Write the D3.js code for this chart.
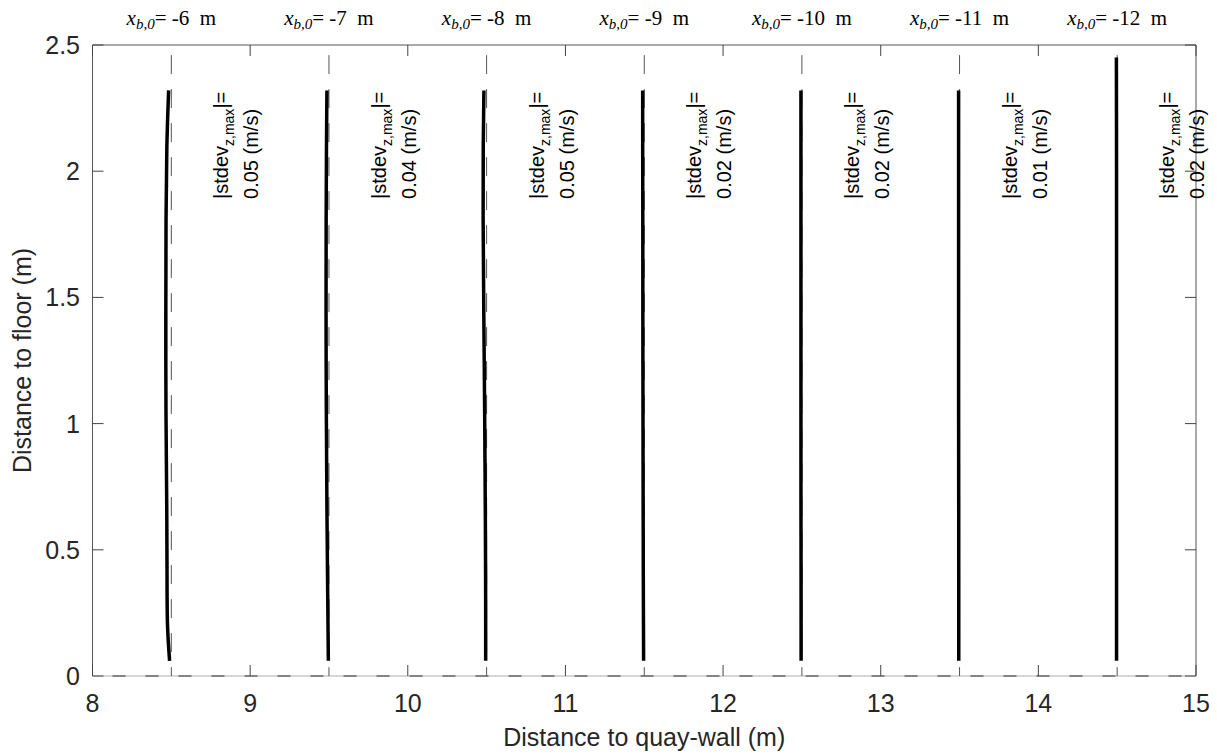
<!DOCTYPE html>
<html><head><meta charset="utf-8">
<script src="https://cdn.jsdelivr.net/npm/d3@7"></script>
<style>body{margin:0;background:#fff}svg text{white-space:pre}</style>
</head><body><svg id="c" width="1217" height="756"></svg>
<script>
// ---- data ----
const xTicks = [8, 9, 10, 11, 12, 13, 14, 15];
const xTickLabels = ["8", "9", "10", "11", "12", "13", "14", "15"];
const yTicks = [0, 0.5, 1, 1.5, 2, 2.5];
const yTickLabels = ["0", "0.5", "1", "1.5", "2", "2.5"];
const profileCenters = [8.5, 9.5, 10.5, 11.5, 12.5, 13.5, 14.5];
const xb0Values = ["-6", "-7", "-8", "-9", "-10", "-11", "-12"];
const stdevValues = ["0.05", "0.04", "0.05", "0.02", "0.02", "0.01", "0.02"];
const heights = [0.06, 0.2, 0.38, 0.65, 1.04, 1.44, 1.83, 2.10, 2.32];
const heights7 = [0.06, 0.2, 0.38, 0.65, 1.04, 1.44, 1.83, 2.10, 2.45];
const offsets1 = [-0.011, -0.027, -0.027, -0.028, -0.035, -0.035, -0.034, -0.030, -0.017];
const offsets2 = [-0.004, -0.006, -0.009, -0.013, -0.017, -0.019, -0.018, -0.016, -0.013];
const offsets3 = [-0.006, -0.006, -0.006, -0.008, -0.012, -0.018, -0.023, -0.022, -0.017];
const offsets4 = [-0.004, -0.005, -0.006, -0.007, -0.008, -0.009, -0.009, -0.010, -0.010];
const offsets5 = [-0.005, -0.005, -0.005, -0.006, -0.006, -0.006, -0.006, -0.006, -0.006];
const offsets6 = [-0.005, -0.005, -0.005, -0.005, -0.006, -0.006, -0.006, -0.006, -0.006];
const offsets7 = [-0.004, -0.004, -0.004, -0.004, -0.004, -0.004, -0.004, -0.004, -0.005];
const profileOffsets = [offsets1, offsets2, offsets3, offsets4, offsets5, offsets6, offsets7];
const profileHeights = [heights, heights, heights, heights, heights, heights, heights7];

// ---- layout ----
const L = 92.5, R = 1196, T = 45, B = 676;
const svg = d3.select("#c");
const x = d3.scaleLinear().domain([8, 15]).range([L, R]);
const y = d3.scaleLinear().domain([0, 2.5]).range([B, T]);
const FONT = "'Liberation Sans', Arial, Helvetica, sans-serif";

// reference dashed lines
const g = svg.append("g");
g.append("line").attr("x1", L).attr("x2", R).attr("y1", y(0)).attr("y2", y(0))
  .attr("stroke", "#b0b0b0").attr("stroke-width", 1.2);
g.append("line").attr("x1", L).attr("x2", R).attr("y1", y(0)).attr("y2", y(0))
  .attr("stroke", "#333").attr("stroke-width", 1.2).attr("stroke-dasharray", "13,20").attr("stroke-dashoffset", -20);
profileCenters.forEach(c => {
  g.append("line").attr("x1", x(c)).attr("x2", x(c)).attr("y1", y(2.46)).attr("y2", y(0))
    .attr("stroke", "#555").attr("stroke-width", 1).attr("stroke-dasharray", "19,15");
});

// profiles
const line = d3.line().x(d => x(d[0])).y(d => y(d[1])).curve(d3.curveBasis);
profileCenters.forEach((c, i) => {
  const pts = profileHeights[i].map((h, j) => [c + profileOffsets[i][j], h]);
  g.append("path").attr("d", line(pts)).attr("fill", "none")
    .attr("stroke", "#000").attr("stroke-width", 3.5);
});

// axes box
svg.append("line").attr("x1", L).attr("x2", R).attr("y1", T).attr("y2", T).attr("stroke", "#555").attr("stroke-width", 1);
svg.append("line").attr("x1", L).attr("x2", L).attr("y1", T).attr("y2", B).attr("stroke", "#555").attr("stroke-width", 1);
svg.append("line").attr("x1", R).attr("x2", R).attr("y1", T).attr("y2", B).attr("stroke", "#555").attr("stroke-width", 1);

// ticks
const tk = 11;
xTicks.forEach((t, i) => {
  svg.append("line").attr("x1", x(t)).attr("x2", x(t)).attr("y1", B).attr("y2", B - tk).attr("stroke", "#444");
  svg.append("line").attr("x1", x(t)).attr("x2", x(t)).attr("y1", T).attr("y2", T + tk).attr("stroke", "#444");
  svg.append("text").attr("x", x(t)).attr("y", 712).attr("text-anchor", "middle")
    .attr("font-family", FONT).attr("font-size", 25).attr("fill", "#262626").text(xTickLabels[i]);
});
yTicks.forEach((t, i) => {
  svg.append("line").attr("x1", L).attr("x2", L + tk).attr("y1", y(t)).attr("y2", y(t)).attr("stroke", "#444");
  svg.append("line").attr("x1", R).attr("x2", R - tk).attr("y1", y(t)).attr("y2", y(t)).attr("stroke", "#444");
  svg.append("text").attr("x", 80).attr("y", y(t)).attr("dy", "0.36em").attr("text-anchor", "end")
    .attr("font-family", FONT).attr("font-size", 25).attr("fill", "#262626").text(yTickLabels[i]);
});

// axis labels
svg.append("text").attr("x", (L + R) / 2).attr("y", 746).attr("text-anchor", "middle")
  .attr("font-family", FONT).attr("font-size", 25).attr("fill", "#262626").text("Distance to quay-wall (m)");
svg.append("text").attr("transform", `translate(31,${(T + B) / 2}) rotate(-90)`).attr("text-anchor", "middle")
  .attr("font-family", FONT).attr("font-size", 25).attr("fill", "#262626").text("Distance to floor (m)");

// top labels x_{b,0}
const SERIF = "'Liberation Serif', 'Times New Roman', serif";
profileCenters.forEach((c, i) => {
  const t = svg.append("text").attr("x", x(c)).attr("y", 25).attr("text-anchor", "middle")
    .attr("font-family", SERIF).attr("font-size", 21).attr("fill", "#000");
  t.append("tspan").attr("font-style", "italic").text("x");
  t.append("tspan").attr("font-style", "italic").attr("font-size", 15).attr("dy", 4).text("b,0");
  t.append("tspan").attr("dy", -4).text("= " + xb0Values[i] + "  m");
});

// rotated stdev labels
profileCenters.forEach((c, i) => {
  const t1 = svg.append("text").attr("transform", `translate(${x(c) + 57},${y(1.89)}) rotate(-90)`)
    .attr("font-family", FONT).attr("font-size", 20).attr("fill", "#000");
  t1.append("tspan").text("|stdev");
  t1.append("tspan").attr("font-size", 14).attr("dy", 6).text("z,max");
  t1.append("tspan").attr("dy", -6).text("|=");
  svg.append("text").attr("transform", `translate(${x(c) + 87},${y(1.89)}) rotate(-90)`)
    .attr("font-family", FONT).attr("font-size", 20).attr("fill", "#000").text(stdevValues[i] + " (m/s)");
});
</script></body></html>
